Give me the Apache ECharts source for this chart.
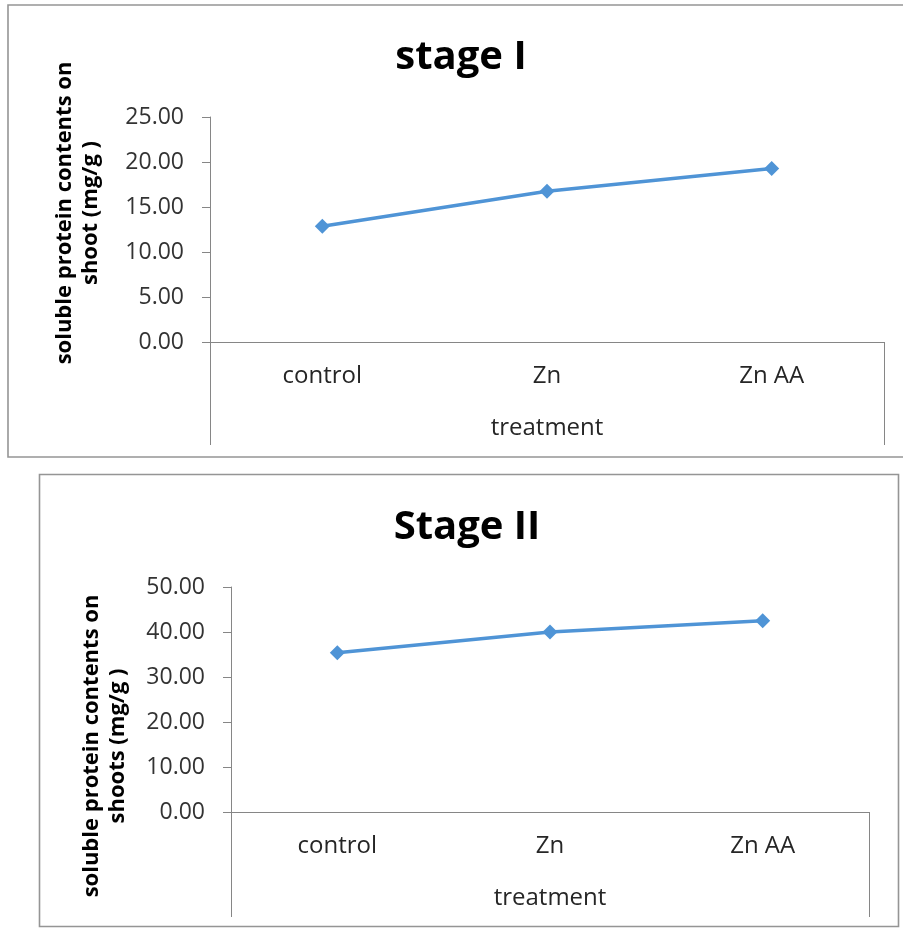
<!DOCTYPE html>
<html>
<head>
<meta charset="utf-8">
<script src="https://cdn.jsdelivr.net/npm/echarts@6/dist/echarts.min.js"></script>
<style>
  html, body { margin: 0; padding: 0; background: #ffffff; }
  #chart { width: 903px; height: 928px; }
</style>
</head>
<body>
<div id="chart"></div>
<script>
// Treatments shared by both growth stages
const treatments = ['control', 'Zn', 'Zn AA'];

// Soluble protein (mg/g) in shoots
const stage1Values = [12.85, 16.74, 19.27];
const stage2Values = [35.4, 40.0, 42.5];

// Value-axis ticks for each panel
const stage1Ticks = [0, 5, 10, 15, 20, 25];
const stage2Ticks = [0, 10, 20, 30, 40, 50];

// Panel texts
const titles = ['stage I', 'Stage II'];
const yNames = [
  'soluble protein contents on\nshoot (mg/g )',
  'soluble protein contents on\nshoots (mg/g )'
];
const xName = 'treatment';

const FONT = '"Open Sans", "Liberation Sans", sans-serif';
const LINE_BLUE = '#4f94d6';
const AXIS_GREY = '#868686';

// Panel frames (plot rectangles) in pixels
const panels = [
  { left: 210, top: 117, right: 884, bottom: 342, box: [8, 5, 900, 452], titleX: 461, titleY: 58, nameX: 78, nameY: 213, extBottom: 445 },
  { left: 231, top: 587, right: 869, bottom: 812, box: [39.5, 474.5, 859, 452], titleX: 467, titleY: 528, nameX: 105, nameY: 746, extBottom: 917 }
];

function tickSpec(ticks) {
  return { min: ticks[0], max: ticks[ticks.length - 1], interval: ticks[1] - ticks[0] };
}

const grids = panels.map(p => ({
  left: p.left,
  top: p.top,
  width: p.right - p.left,
  height: p.bottom - p.top,
  containLabel: false,
  outerBoundsMode: 'none'
}));

const xAxes = panels.map((p, i) => ({
  gridIndex: i,
  type: 'category',
  data: treatments,
  boundaryGap: true,
  axisLine: { show: true, lineStyle: { color: AXIS_GREY, width: 1 } },
  axisTick: { show: false },
  splitLine: { show: false },
  axisLabel: { margin: 22, fontFamily: FONT, fontSize: 24, color: '#262626' },
  name: xName,
  nameLocation: 'middle',
  nameGap: 74,
  nameTextStyle: { fontFamily: FONT, fontSize: 24, color: '#262626' }
}));

const yAxes = [stage1Ticks, stage2Ticks].map((ticks, i) => Object.assign({
  gridIndex: i,
  type: 'value',
  axisLine: { show: true, lineStyle: { color: AXIS_GREY, width: 1 } },
  axisTick: { show: true, inside: false, length: 8, lineStyle: { color: AXIS_GREY } },
  splitLine: { show: false },
  axisLabel: {
    margin: 26,
    fontFamily: FONT,
    fontSize: 23,
    color: '#333333',
    formatter: v => v.toFixed(2)
  }
}, tickSpec(ticks)));

const series = [stage1Values, stage2Values].map((vals, i) => ({
  type: 'line',
  xAxisIndex: i,
  yAxisIndex: i,
  data: vals,
  symbol: 'diamond',
  symbolSize: 15,
  showSymbol: true,
  lineStyle: { color: LINE_BLUE, width: 3.5 },
  itemStyle: { color: LINE_BLUE },
  z: 5,
  animation: false
}));

// Frames, end dividers below the category axis, titles and rotated value-axis names
const graphic = [];
panels.forEach((p, i) => {
  graphic.push({
    type: 'rect',
    shape: { x: p.box[0], y: p.box[1], width: p.box[2], height: p.box[3] },
    style: { fill: 'none', stroke: '#959595', lineWidth: 1.6 },
    silent: true
  });
  [p.left + 0.5, p.right + 0.5].forEach(x => {
    graphic.push({
      type: 'line',
      shape: { x1: x, y1: p.bottom, x2: x, y2: p.extBottom },
      style: { stroke: AXIS_GREY, lineWidth: 1 },
      silent: true
    });
  });
  graphic.push({
    type: 'text',
    x: p.titleX,
    y: p.titleY,
    style: {
      text: titles[i],
      fontFamily: FONT,
      fontWeight: 'bold',
      fontSize: 40,
      fill: '#000000',
      align: 'center',
      verticalAlign: 'middle'
    },
    silent: true
  });
  graphic.push({
    type: 'text',
    x: p.nameX,
    y: p.nameY,
    rotation: Math.PI / 2,
    style: {
      text: yNames[i],
      fontFamily: FONT,
      fontWeight: 'bold',
      fontSize: 22,
      lineHeight: 26,
      fill: '#000000',
      align: 'center',
      verticalAlign: 'middle'
    },
    silent: true
  });
});

const chart = echarts.init(document.getElementById('chart'), null, { renderer: 'canvas' });
chart.setOption({
  backgroundColor: '#ffffff',
  animation: false,
  grid: grids,
  xAxis: xAxes,
  yAxis: yAxes,
  series: series,
  graphic: graphic
});
</script>
</body>
</html>
